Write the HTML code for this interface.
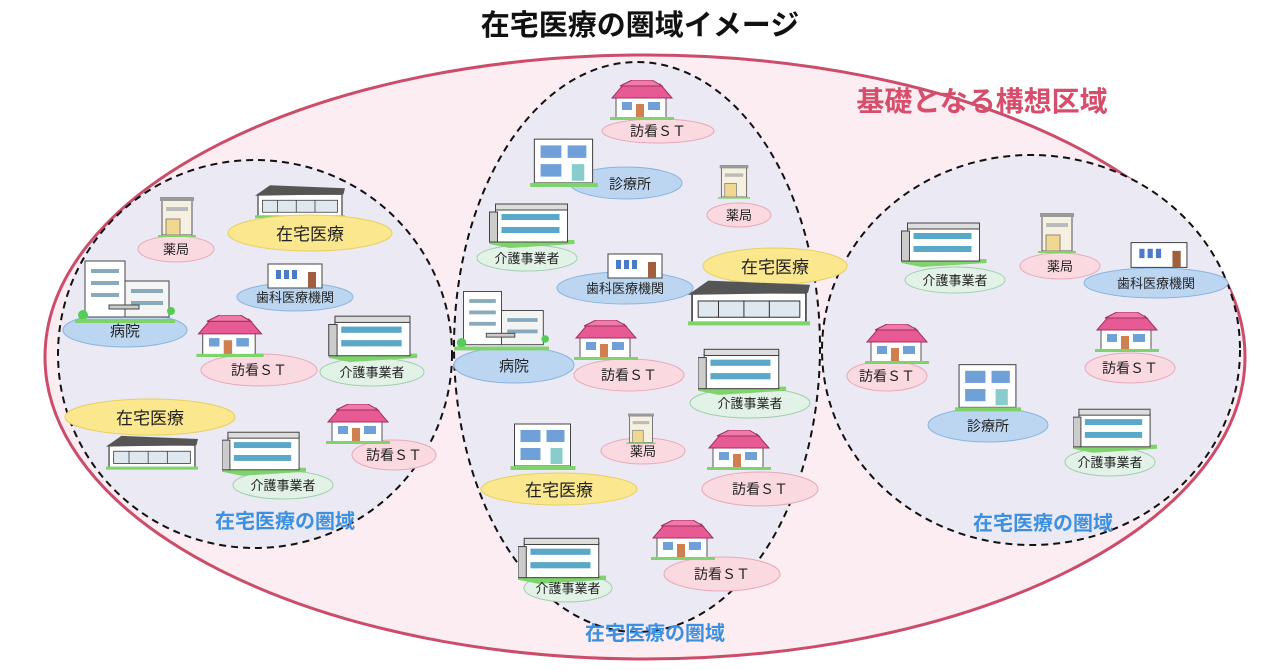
<!DOCTYPE html>
<html><head><meta charset="utf-8"><style>
html,body{margin:0;padding:0;background:#fff;}
svg{display:block;}
text{font-family:"Liberation Sans","Noto Sans CJK JP",sans-serif;}
</style></head><body>
<svg width="1280" height="670" viewBox="0 0 1280 670" xmlns="http://www.w3.org/2000/svg">
<defs>
<symbol id="house" viewBox="0 0 64 40">
 <rect x="6" y="16" width="50" height="22" fill="#fff" stroke="#555" stroke-width="1"/>
 <polygon points="2,18 14,4 50,4 62,18" fill="#e85a93" stroke="#a03060"/>
 <polygon points="10,6 22,0 42,0 52,6" fill="#f07aa8" stroke="#a03060"/>
 <rect x="12" y="22" width="10" height="8" fill="#6fa0d8"/><rect x="38" y="22" width="12" height="8" fill="#6fa0d8"/>
 <rect x="26" y="24" width="8" height="14" fill="#d08050"/>
 <rect x="0" y="37" width="64" height="3" fill="#7ed36a"/>
</symbol>
<symbol id="care" viewBox="0 0 85 48">
 <polygon points="0,44 20,48 85,44 85,40 0,40" fill="#7ed36a"/>
 <rect x="6" y="8" width="72" height="34" fill="#fff" stroke="#444"/>
 <rect x="6" y="4" width="72" height="6" fill="#ddd" stroke="#444"/>
 <rect x="12" y="14" width="58" height="6" fill="#5aa8c8"/><rect x="12" y="27" width="58" height="6" fill="#5aa8c8"/>
 <rect x="0" y="12" width="8" height="30" fill="#ccc" stroke="#444"/>
</symbol>
<symbol id="clinic" viewBox="0 0 65 50">
 <rect x="4" y="4" width="56" height="42" fill="#fff" stroke="#444"/>
 <rect x="10" y="10" width="20" height="12" fill="#6fa0d8"/><rect x="36" y="10" width="18" height="12" fill="#6fa0d8"/>
 <rect x="10" y="28" width="20" height="12" fill="#6fa0d8"/><rect x="40" y="28" width="12" height="16" fill="#8cc"/>
 <rect x="0" y="46" width="65" height="4" fill="#7ed36a"/>
</symbol>
<symbol id="pharm" viewBox="0 0 38 42">
 <rect x="4" y="4" width="30" height="36" fill="#f6f0e0" stroke="#555"/>
 <rect x="2" y="2" width="34" height="4" fill="#999"/>
 <rect x="8" y="12" width="22" height="4" fill="#bbb"/>
 <rect x="8" y="24" width="14" height="16" fill="#f0d890" stroke="#888"/>
 <rect x="0" y="40" width="38" height="2" fill="#7ed36a"/>
</symbol>
<symbol id="dental" viewBox="0 0 58 28">
 <rect x="2" y="2" width="54" height="24" fill="#fff" stroke="#444"/>
 <rect x="10" y="8" width="5" height="9" fill="#4a7ac8"/><rect x="18" y="8" width="5" height="9" fill="#4a7ac8"/><rect x="26" y="8" width="5" height="9" fill="#4a7ac8"/>
 <rect x="42" y="10" width="8" height="16" fill="#a06040"/>
</symbol>
<symbol id="hosp" viewBox="0 0 100 72">
 <rect x="10" y="6" width="40" height="56" fill="#fff" stroke="#444"/>
 <rect x="50" y="26" width="44" height="36" fill="#f4f4f4" stroke="#444"/>
 <rect x="16" y="14" width="28" height="4" fill="#8ab"/><rect x="16" y="26" width="28" height="4" fill="#8ab"/><rect x="16" y="38" width="28" height="4" fill="#8ab"/>
 <rect x="56" y="34" width="32" height="4" fill="#8ab"/><rect x="56" y="46" width="32" height="4" fill="#8ab"/>
 <rect x="34" y="50" width="30" height="4" fill="#ccc" stroke="#444"/>
 <circle cx="8" cy="60" r="5" fill="#5c5"/><circle cx="96" cy="56" r="4" fill="#5c5"/>
 <rect x="0" y="64" width="100" height="4" fill="#7ed36a"/>
</symbol>
<symbol id="home" viewBox="0 0 120 46">
 <rect x="4" y="14" width="112" height="30" fill="#fff" stroke="#333" stroke-width="1.5"/>
 <polygon points="0,16 20,2 120,6 118,14" fill="#555"/>
 <rect x="10" y="22" width="100" height="16" fill="#dfe8ee" stroke="#333"/>
 <line x1="30" y1="22" x2="30" y2="38" stroke="#333"/><line x1="55" y1="22" x2="55" y2="38" stroke="#333"/><line x1="80" y1="22" x2="80" y2="38" stroke="#333"/>
 <rect x="0" y="42" width="120" height="4" fill="#7ed36a"/>
</symbol>
</defs>

<text x="640" y="35" text-anchor="middle" font-size="29" font-weight="bold" fill="#111">在宅医療の圏域イメージ</text>

<ellipse cx="645" cy="357" rx="600" ry="302" fill="#fcedf2" stroke="#cc4d6a" stroke-width="3"/>
<text x="982" y="111" text-anchor="middle" font-size="28" font-weight="bold" fill="#d64e6c">基礎となる構想区域</text>

<ellipse cx="255" cy="354" rx="197" ry="194" fill="#ebeaf4" stroke="#111" stroke-width="2" stroke-dasharray="7,5"/>
<ellipse cx="1031" cy="350" rx="209" ry="195" fill="#ebeaf4" stroke="#111" stroke-width="2" stroke-dasharray="7,5"/>
<ellipse cx="637" cy="347" rx="183" ry="285" fill="#ebeaf4" stroke="#111" stroke-width="2" stroke-dasharray="7,5"/>

<g font-size="13" text-anchor="middle" fill="#222">
<!-- left -->
<ellipse cx="176" cy="249" rx="38" ry="13" fill="#fbd9e0" stroke="#e8a8b8"/><use href="#pharm" x="158" y="195" width="38" height="42"/><text x="176" y="254">薬局</text>
<use href="#home" x="255" y="182" width="90" height="38"/>
<ellipse cx="310" cy="233" rx="82" ry="18" fill="#fbe88e" stroke="#e8cf60"/><text x="310" y="240" font-size="17">在宅医療</text>
<ellipse cx="295" cy="297" rx="58" ry="14" fill="#bcd6f2" stroke="#8ab4e0"/><use href="#dental" x="266" y="262" width="58" height="28"/><text x="295" y="302">歯科医療機関</text>
<ellipse cx="125" cy="330" rx="62" ry="17" fill="#bcd6f2" stroke="#8ab4e0"/><use href="#hosp" x="70" y="255" width="110" height="72"/><text x="125" y="336" font-size="15">病院</text>
<ellipse cx="259" cy="370" rx="58" ry="16" fill="#fbd9e0" stroke="#e8a8b8"/><use href="#house" x="196" y="315" width="68" height="42"/><text x="259" y="375" font-size="14">訪看ＳＴ</text>
<ellipse cx="372" cy="372" rx="52" ry="14" fill="#e2f2e6" stroke="#9fcfae"/><use href="#care" x="328" y="312" width="90" height="50"/><text x="372" y="377">介護事業者</text>
<ellipse cx="150" cy="417" rx="85" ry="18" fill="#fbe88e" stroke="#e8cf60"/><text x="150" y="424" font-size="17">在宅医療</text>
<use href="#home" x="106" y="432" width="92" height="40"/>
<ellipse cx="283" cy="485" rx="50" ry="14" fill="#e2f2e6" stroke="#9fcfae"/><use href="#care" x="222" y="428" width="84" height="48"/><text x="283" y="490">介護事業者</text>
<ellipse cx="394" cy="455" rx="42" ry="15" fill="#fbd9e0" stroke="#e8a8b8"/><use href="#house" x="325" y="404" width="66" height="40"/><text x="394" y="460" font-size="14">訪看ＳＴ</text>
<!-- middle -->
<ellipse cx="658" cy="131" rx="56" ry="12" fill="#fbd9e0" stroke="#e8a8b8"/><use href="#house" x="610" y="80" width="64" height="40"/><text x="658" y="136" font-size="14">訪看ＳＴ</text>
<ellipse cx="626" cy="183" rx="56" ry="16" fill="#bcd6f2" stroke="#8ab4e0"/><use href="#clinic" x="530" y="135" width="68" height="52"/><text x="630" y="189" font-size="14">診療所</text>
<ellipse cx="739" cy="215" rx="32" ry="12" fill="#fbd9e0" stroke="#e8a8b8"/><use href="#pharm" x="718" y="160" width="32" height="42"/><text x="739" y="220">薬局</text>
<ellipse cx="527" cy="258" rx="50" ry="13" fill="#e2f2e6" stroke="#9fcfae"/><use href="#care" x="488" y="200" width="88" height="48"/><text x="527" y="263">介護事業者</text>
<ellipse cx="625" cy="288" rx="68" ry="16" fill="#bcd6f2" stroke="#8ab4e0"/><use href="#dental" x="606" y="252" width="58" height="28"/><text x="625" y="293">歯科医療機関</text>
<ellipse cx="775" cy="266" rx="72" ry="18" fill="#fbe88e" stroke="#e8cf60"/><text x="775" y="273" font-size="17">在宅医療</text>
<use href="#home" x="688" y="278" width="122" height="48"/>
<ellipse cx="514" cy="365" rx="60" ry="18" fill="#bcd6f2" stroke="#8ab4e0"/><use href="#hosp" x="454" y="284" width="95" height="72"/><text x="514" y="371" font-size="15">病院</text>
<ellipse cx="629" cy="375" rx="55" ry="16" fill="#fbd9e0" stroke="#e8a8b8"/><use href="#house" x="573" y="320" width="66" height="40"/><text x="629" y="380" font-size="14">訪看ＳＴ</text>
<ellipse cx="750" cy="403" rx="60" ry="15" fill="#e2f2e6" stroke="#9fcfae"/><use href="#care" x="698" y="345" width="88" height="50"/><text x="750" y="408">介護事業者</text>
<use href="#clinic" x="510" y="420" width="66" height="50"/>
<ellipse cx="559" cy="489" rx="78" ry="16" fill="#fbe88e" stroke="#e8cf60"/><text x="559" y="496" font-size="17">在宅医療</text>
<ellipse cx="643" cy="451" rx="42" ry="13" fill="#fbd9e0" stroke="#e8a8b8"/><use href="#pharm" x="622" y="412" width="38" height="32"/><text x="643" y="456">薬局</text>
<ellipse cx="760" cy="489" rx="58" ry="17" fill="#fbd9e0" stroke="#e8a8b8"/><use href="#house" x="706" y="430" width="66" height="40"/><text x="760" y="494" font-size="14">訪看ＳＴ</text>
<ellipse cx="568" cy="588" rx="44" ry="14" fill="#e2f2e6" stroke="#9fcfae"/><use href="#care" x="518" y="534" width="88" height="50"/><text x="568" y="593">介護事業者</text>
<ellipse cx="722" cy="574" rx="58" ry="17" fill="#fbd9e0" stroke="#e8a8b8"/><use href="#house" x="650" y="520" width="66" height="40"/><text x="722" y="579" font-size="14">訪看ＳＴ</text>
<!-- right -->
<ellipse cx="955" cy="280" rx="50" ry="13" fill="#e2f2e6" stroke="#9fcfae"/><use href="#care" x="901" y="219" width="86" height="48"/><text x="955" y="285">介護事業者</text>
<ellipse cx="1060" cy="266" rx="40" ry="13" fill="#fbd9e0" stroke="#e8a8b8"/><use href="#pharm" x="1038" y="210" width="38" height="44"/><text x="1060" y="271">薬局</text>
<ellipse cx="1156" cy="283" rx="72" ry="15" fill="#bcd6f2" stroke="#8ab4e0"/><use href="#dental" x="1129" y="240" width="60" height="30"/><text x="1156" y="288">歯科医療機関</text>
<ellipse cx="887" cy="376" rx="40" ry="15" fill="#fbd9e0" stroke="#e8a8b8"/><use href="#house" x="864" y="324" width="66" height="40"/><text x="887" y="381" font-size="14">訪看ＳＴ</text>
<ellipse cx="1130" cy="368" rx="45" ry="15" fill="#fbd9e0" stroke="#e8a8b8"/><use href="#house" x="1094" y="312" width="66" height="40"/><text x="1130" y="373" font-size="14">訪看ＳＴ</text>
<ellipse cx="988" cy="425" rx="60" ry="17" fill="#bcd6f2" stroke="#8ab4e0"/><use href="#clinic" x="955" y="360" width="66" height="52"/><text x="988" y="431" font-size="14">診療所</text>
<ellipse cx="1110" cy="462" rx="45" ry="14" fill="#e2f2e6" stroke="#9fcfae"/><use href="#care" x="1073" y="404" width="84" height="50"/><text x="1110" y="467">介護事業者</text>
</g>

<g font-size="20" font-weight="bold" fill="#3d8fe0" text-anchor="middle">
<text x="285" y="528">在宅医療の圏域</text>
<text x="655" y="640">在宅医療の圏域</text>
<text x="1043" y="530">在宅医療の圏域</text>
</g>
</svg>
</body></html>
